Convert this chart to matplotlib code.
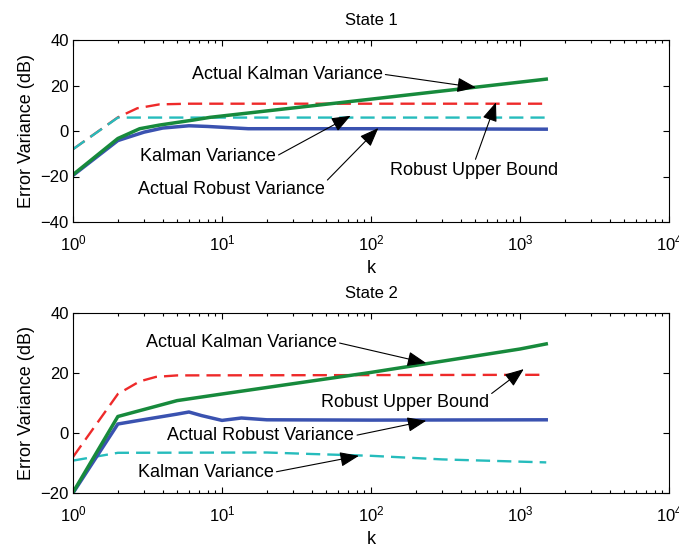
import matplotlib
matplotlib.use("Agg")
import matplotlib.pyplot as plt

plt.rcParams['font.family'] = ['Liberation Sans', 'DejaVu Sans']
plt.rcParams['mathtext.fontset'] = 'custom'
plt.rcParams['mathtext.rm'] = 'Liberation Sans'
plt.rcParams['mathtext.default'] = 'regular'

# ---------------- data (dB vs k) ----------------
# State 1
s1_red_k = [1, 2, 2.7, 3.8, 6, 1500]
s1_red_db = [-8.0, 6.0, 10.0, 11.7, 12.0, 12.0]
s1_cyan_k = [1, 2, 1500]
s1_cyan_db = [-8.0, 5.9, 5.9]
s1_blue_k = [1, 2, 3, 4, 6, 8, 15, 100, 1500]
s1_blue_db = [-19.5, -4.2, -0.5, 1.3, 2.3, 2.0, 1.0, 1.0, 0.8]
s1_green_k = [1, 2, 2.8, 3.8, 6.4, 8.3, 100, 1500]
s1_green_db = [-19.2, -3.3, 1.0, 2.6, 4.8, 6.0, 14.0, 22.8]

# State 2
s2_red_k = [1, 2, 2.8, 3.6, 5, 1500]
s2_red_db = [-8.0, 13.0, 17.2, 18.7, 19.2, 19.4]
s2_cyan_k = [1, 2, 20, 40, 100, 300, 1500]
s2_cyan_db = [-9.2, -6.6, -6.5, -7.0, -7.6, -8.8, -9.8]
s2_blue_k = [1, 2, 2.7, 5, 6, 7.3, 10, 13.5, 20, 100, 1500]
s2_blue_db = [-20.0, 3.0, 4.1, 6.3, 7.0, 5.8, 4.2, 5.0, 4.4, 4.3, 4.4]
s2_green_k = [1, 2, 5, 10, 100, 1000, 1500]
s2_green_db = [-19.8, 5.5, 10.8, 13.0, 20.2, 28.0, 29.7]

titles = ['State 1', 'State 2']
ylims = [(-40, 40), (-20, 40)]
yticks = [[-40, -20, 0, 20, 40], [-20, 0, 20, 40]]

# annotations: (text, text_k, text_db, head_k, head_db, relpos)
s1_notes = [
    ('Actual Kalman Variance', 6.25, 25.0, 507, 19.1, (1, 0.5)),
    ('Kalman Variance', 2.81, -11.2, 73, 6.7, (1, 0.5)),
    ('Actual Robust Variance', 2.72, -25.8, 112, 1.3, (1, 0.9)),
    ('Robust Upper Bound', 135, -17.4, 690, 12.6, (0.5, 1)),
]
s2_notes = [
    ('Actual Kalman Variance', 3.08, 30.2, 235, 23.3, (1, 0.5)),
    ('Robust Upper Bound', 46, 10.2, 1060, 21.3, (1, 0.9)),
    ('Actual Robust Variance', 4.3, -0.9, 235, 4.1, (1, 0.5)),
    ('Kalman Variance', 2.72, -13.1, 83, -7.6, (1, 0.5)),
]

c_red = '#ee2a2a'
c_cyan = '#26bcbc'
c_blue = '#3a52b0'
c_green = '#178a3c'

fig = plt.figure(figsize=(6.79, 5.49), dpi=100)
ax1 = fig.add_axes([73 / 679, 1 - 222 / 549, 596 / 679, 182 / 549])
ax2 = fig.add_axes([73 / 679, 1 - 493 / 549, 596 / 679, 180 / 549])

series = [
    (s1_red_k, s1_red_db, s1_cyan_k, s1_cyan_db, s1_blue_k, s1_blue_db, s1_green_k, s1_green_db, s1_notes),
    (s2_red_k, s2_red_db, s2_cyan_k, s2_cyan_db, s2_blue_k, s2_blue_db, s2_green_k, s2_green_db, s2_notes),
]

for i, (ax, s) in enumerate(zip([ax1, ax2], series)):
    rk, rd, ck, cd, bk, bd, gk, gd, notes = s
    ax.plot(rk, rd, color=c_red, lw=1.7, dashes=(6, 3))
    ax.plot(ck, cd, color=c_cyan, lw=1.7, dashes=(6, 3))
    ax.plot(bk, bd, color=c_blue, lw=2.5)
    ax.plot(gk, gd, color=c_green, lw=2.5)
    ax.set_xscale('log')
    ax.set_xlim(1, 1e4)
    ax.set_ylim(*ylims[i])
    ax.set_yticks(yticks[i])
    ax.tick_params(which='both', direction='in', top=True, right=True, labelsize=12, width=0.8)
    ax.tick_params(which='major', length=4)
    ax.tick_params(which='minor', length=2.5)
    ax.tick_params(axis='x', pad=8.5)
    ax.tick_params(axis='y', pad=3)
    for sp in ax.spines.values():
        sp.set_linewidth(0.8)
    ax.set_title(titles[i], fontsize=12, pad=10.5)
    ax.set_xlabel('k', fontsize=13, labelpad=4.5)
    ax.set_ylabel('Error Variance (dB)', fontsize=13, labelpad=4)
    for txt, tk, td, hk, hd, rp in notes:
        ax.annotate(txt, xy=(hk, hd), xytext=(tk, td), ha='left', va='center', fontsize=13,
                    arrowprops=dict(arrowstyle='-|>,head_length=0.9,head_width=0.35',
                                    color='k', lw=0.8, shrinkA=0, shrinkB=0, relpos=rp),
                    )

fig.savefig('out.png', dpi=100)
